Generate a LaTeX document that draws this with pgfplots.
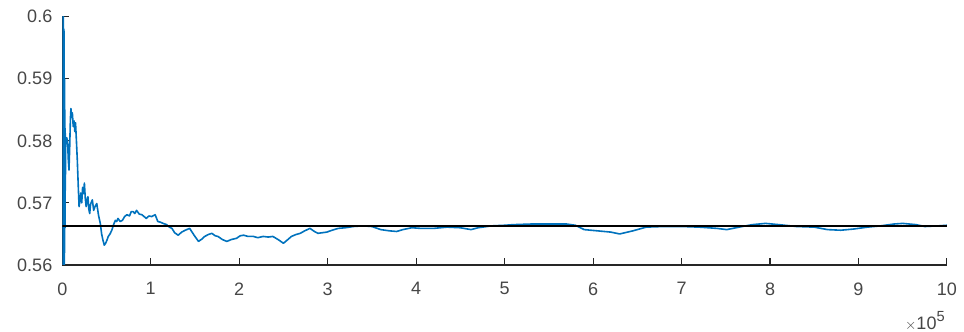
\documentclass[border=0pt]{standalone}
\usepackage{pgfplots}
\pgfplotsset{compat=1.18}
\usepackage{fontspec}
\setmainfont{Liberation Sans}
\definecolor{mblue}{RGB}{0,114,189}
\definecolor{axgray}{RGB}{38,38,38}
\definecolor{txtgray}{RGB}{70,70,70}
\pgfplotstableread{
x y
0 0.615
0.004 0.555
0.007 0.605
0.010 0.555
0.013 0.603
0.016 0.556
0.019 0.598
0.022 0.558
0.025 0.590
0.027 0.562
0.029 0.585
0.031 0.566
0.033 0.582
0.035 0.572
0.038 0.580
0.042 0.5795
0.050 0.5805
0.060 0.5800
0.068 0.5770
0.076 0.5753
0.084 0.5790
0.092 0.5835
0.098 0.5852
0.106 0.5838
0.114 0.5845
0.124 0.5823
0.134 0.5832
0.142 0.5815
0.150 0.5829
0.160 0.5800
0.170 0.5769
0.180 0.5730
0.190 0.5694
0.200 0.5705
0.210 0.5716
0.220 0.5700
0.230 0.5725
0.240 0.5715
0.250 0.5732
0.260 0.5708
0.270 0.5694
0.280 0.5705
0.290 0.5710
0.300 0.5690
0.310 0.5683
0.320 0.5698
0.340 0.5705
0.355 0.5688
0.370 0.5694
0.390 0.5699
0.410 0.5680
0.430 0.5667
0.445 0.5650
0.460 0.5640
0.475 0.5632
0.490 0.5635
0.505 0.5640
0.520 0.5646
0.540 0.5650
0.560 0.5656
0.580 0.5665
0.600 0.5672
0.615 0.5670
0.630 0.5675
0.655 0.5670
0.680 0.5672
0.705 0.5678
0.730 0.5681
0.760 0.5679
0.780 0.5686
0.800 0.5686
0.820 0.5683
0.840 0.5688
0.870 0.5682
0.900 0.5681
0.925 0.5678
0.950 0.5675
0.980 0.5679
1.010 0.5678
1.050 0.5681
1.080 0.5670
1.110 0.5669
1.140 0.5667
1.180 0.5665
1.210 0.5661
1.240 0.5659
1.270 0.5652
1.310 0.5648
1.350 0.5653
1.390 0.5656
1.440 0.5659
1.490 0.5648
1.540 0.5638
1.580 0.5642
1.610 0.5646
1.650 0.5649
1.690 0.5651
1.730 0.5647
1.760 0.5646
1.810 0.5641
1.860 0.5638
1.910 0.5641
1.970 0.5643
2.010 0.5647
2.050 0.5648
2.100 0.5646
2.160 0.5646
2.210 0.5644
2.270 0.5646
2.330 0.5645
2.380 0.5646
2.440 0.5641
2.500 0.5635
2.550 0.5641
2.590 0.5646
2.640 0.5649
2.690 0.5651
2.740 0.5655
2.800 0.5659
2.850 0.5654
2.890 0.5651
2.940 0.5652
2.990 0.5653
3.050 0.5656
3.120 0.5659
3.200 0.5660
3.290 0.5662
3.400 0.5663
3.500 0.5662
3.600 0.5657
3.700 0.5655
3.780 0.5654
3.850 0.5657
3.950 0.5660
4.050 0.5659
4.200 0.5659
4.350 0.5661
4.500 0.5660
4.620 0.5657
4.700 0.5660
4.850 0.5663
5.000 0.5664
5.100 0.5665
5.300 0.5666
5.500 0.5666
5.700 0.5666
5.800 0.5664
5.900 0.5657
6.050 0.5655
6.200 0.5653
6.300 0.5650
6.450 0.5655
6.600 0.5661
6.800 0.5662
7.000 0.5662
7.200 0.5661
7.400 0.5659
7.510 0.5657
7.650 0.5661
7.800 0.5665
7.950 0.5667
8.100 0.5665
8.300 0.5662
8.500 0.5661
8.650 0.5657
8.800 0.5656
8.950 0.5658
9.100 0.5661
9.250 0.5663
9.400 0.5666
9.500 0.5667
9.650 0.5665
9.750 0.5662
9.900 0.5663
10.00 0.5664
}\series
\begin{document}
\begin{tikzpicture}
\useasboundingbox (0,0) rectangle (723pt,249pt);
\begin{axis}[
  name=ax,
  at={(46.7pt,50.25pt)}, anchor=south west,
  scale only axis, width=663.5pt, height=186.25pt,
  xmin=0, xmax=10, ymin=0.56, ymax=0.6,
  axis x line*=bottom, axis y line*=left,
  axis line style={-, axgray, line width=0.8pt},
  tick style={axgray, line width=0.8pt},
  major tick length=5pt,
  tick align=inside,
  xtick={0,1,2,3,4,5,6,7,8,9,10},
  xticklabels={0,1,2,3,4,5,6,7,8,9,10},
  ytick={0.56,0.57,0.58,0.59,0.6},
  yticklabels={0.56,0.57,0.58,0.59,0.6},
  /pgf/number format/assume math mode=true,
  tick label style={font=\fontsize{13.5}{16}\selectfont, text=txtgray, inner sep=0pt},
  xticklabel style={yshift=-13pt},
  yticklabel style={xshift=-7.3pt},
  clip=true,
]
\addplot[mblue, line width=1.2pt, line join=round] table[x=x, y=y] {\series};
\addplot[black, line width=1.1pt] coordinates {(0,0.5663) (10,0.5663)};
\end{axis}
\node[anchor=south east, inner sep=0pt, text=txtgray, font=\fontsize{13.5}{16}\selectfont] at ([xshift=-1.5pt, yshift=-49.5pt]ax.south east) {{\fontsize{11}{12}\selectfont$\times$}10\raisebox{0.45em}{\fontsize{11}{12}\selectfont 5}};
\end{tikzpicture}
\end{document}
